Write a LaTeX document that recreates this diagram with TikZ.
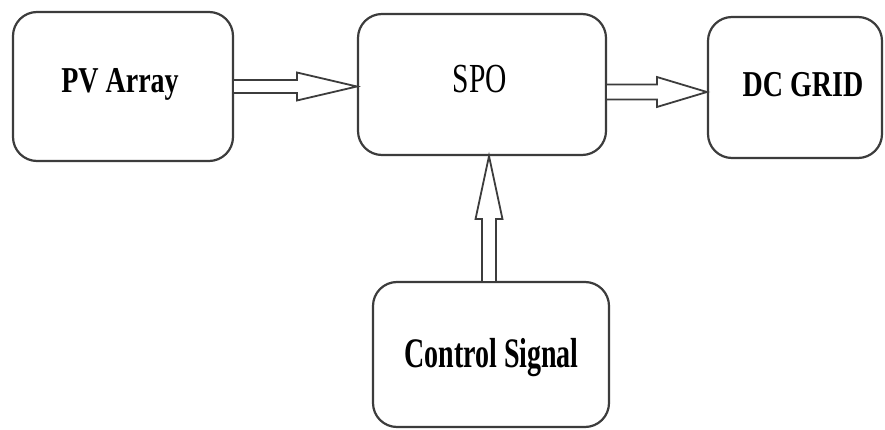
\documentclass[tikz,border=0pt]{standalone}
\usepackage{fontspec}
\usepackage{graphicx}
\setmainfont{Liberation Serif}
\usetikzlibrary{calc}
\definecolor{edge}{HTML}{3C3C3C}
\tikzset{
  blk/.style={draw=edge, line width=2.2pt, rounded corners=24pt, fill=white, inner sep=0pt},
  lbl/.style={anchor=base, inner sep=0pt, text=black},
  arr/.style={draw=edge, line width=1.8pt, fill=white, line join=miter},
}
\newcommand{\bigbold}[2]{\fontsize{28}{30}\selectfont\bfseries\scalebox{1}[#1]{#2}}
\begin{document}
\begin{tikzpicture}[x=1pt,y=-1pt]
\useasboundingbox (0,0) rectangle (885,430);
\fill[white] (0,0) rectangle (885,430);

\node[blk, minimum width=220pt, minimum height=149pt] (pv) at (123,86.5) {};
\node[blk, minimum width=248pt, minimum height=141pt] (spo) at (482,84.5) {};
\node[blk, minimum width=174pt, minimum height=141pt] (dc) at (795,87.5) {};
\node[blk, minimum width=236pt, minimum height=145pt] (ctrl) at (491,354.5) {};

\node[lbl] (pvt) at (120,93) {\bigbold{1.3}{PV Array}};
\node[lbl] (spot) at (480,93) {\fontsize{29.5}{31}\selectfont\scalebox{1}[1.4]{SPO}};
\node[lbl] (dct) at (803,97) {\bigbold{1.3}{DC GRID}};
\node[lbl] (ctrlt) at (491.5,367) {\bigbold{1.5}{Control Signal}};

% PV -> SPO
\coordinate (a1) at (pv.east);
\coordinate (a2) at (spo.west |- pv.east);
\draw[arr] let \p1=(a1), \p2=(a2) in
  (\x1,\y1+6.5pt) -- (\x2-60pt,\y1+6.5pt) -- (\x2-60pt,\y1+14pt) -- (\x2,\y1)
  -- (\x2-60pt,\y1-14pt) -- (\x2-60pt,\y1-6.5pt) -- (\x1,\y1-6.5pt);

% SPO -> DC
\coordinate (b1) at ($(spo.east)+(0,7.5)$);
\coordinate (b2) at (dc.west |- b1);
\draw[arr] let \p1=(b1), \p2=(b2) in
  (\x1,\y1+7.5pt) -- (\x2-50pt,\y1+7.5pt) -- (\x2-50pt,\y1+15pt) -- (\x2,\y1)
  -- (\x2-50pt,\y1-15pt) -- (\x2-50pt,\y1-7.5pt) -- (\x1,\y1-7.5pt);

% Control -> SPO
\coordinate (c1) at ($(ctrl.north)+(-2,0)$);
\coordinate (c2) at (c1 |- spo.south);
\draw[arr] let \p1=(c1), \p2=(c2) in
  (\x1-7pt,\y1) -- (\x1-7pt,\y2-63pt) -- (\x1-13.5pt,\y2-63pt) -- (\x1,\y2)
  -- (\x1+13.5pt,\y2-63pt) -- (\x1+7pt,\y2-63pt) -- (\x1+7pt,\y1);
\end{tikzpicture}
\end{document}
